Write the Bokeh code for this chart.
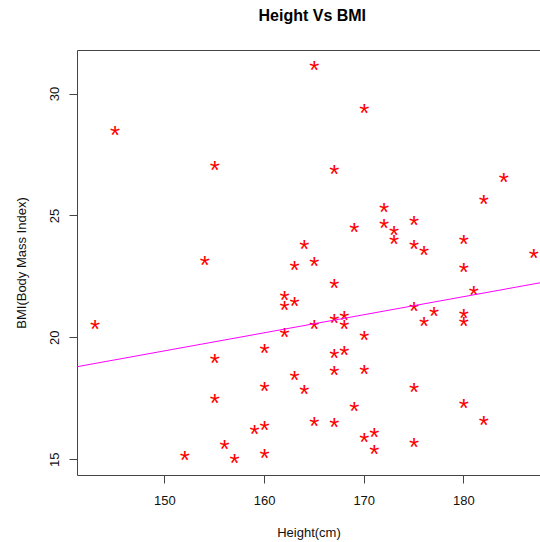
import numpy as np
from bokeh.plotting import figure
from bokeh.models import (FixedTicker, Range1d, ColumnDataSource, Slope, Title,
                          LinearAxis)
from bokeh.core.properties import value
from bokeh.embed import file_html
from bokeh.resources import INLINE

height_cm = [145, 155, 154, 163, 164, 165, 170, 167, 184, 182, 172, 172, 173, 173,
             175, 175, 176, 169, 180, 180, 187, 165, 143, 162, 162, 163, 162, 160,
             155, 163, 164, 160, 155, 159, 160, 156, 152, 157, 160, 167, 181, 175,
             177, 176, 180, 180, 165, 167, 168, 168, 170, 167, 168, 167, 170, 175,
             180, 169, 182, 165, 167, 170, 171, 171, 175]
bmi = [28.47, 27.01, 23.15, 22.94, 23.77, 31.14, 29.36, 26.85, 26.54, 25.62, 25.32,
       24.66, 24.36, 24.01, 24.78, 23.79, 23.53, 24.47, 24.01, 22.85, 23.40, 23.08,
       20.51, 21.69, 21.30, 21.44, 20.18, 19.52, 19.11, 18.42, 17.84, 17.95, 17.47,
       16.19, 16.37, 15.59, 15.14, 15.00, 15.20, 22.19, 21.92, 21.23, 21.03, 20.64,
       20.96, 20.64, 20.52, 20.75, 20.87, 20.52, 20.04, 19.32, 19.45, 18.60, 18.67,
       17.92, 17.26, 17.15, 16.55, 16.51, 16.47, 15.89, 16.06, 15.37, 15.65]
x_ticks = [150, 160, 170, 180]
y_ticks = [15, 20, 25, 30]
title_text = "Height Vs BMI"

# fitted line (abline of lm(BMI ~ Height))
fit_slope = 0.0741
fit_intercept = 8.354

# R-style axis extension (4%)
xpad = 0.04 * (max(height_cm) - min(height_cm))
ypad = 0.04 * (max(bmi) - min(bmi))
x_start = min(height_cm) - xpad
y_start, y_end = min(bmi) - ypad, max(bmi) + ypad
x_end = 187.68  # view is cropped at the right

src = ColumnDataSource(dict(h=height_cm, b=bmi, t=["*"] * len(bmi)))

p = figure(width=540, height=542, output_backend="svg", toolbar_location=None,
           title=None,
           x_range=Range1d(x_start, x_end), y_range=Range1d(y_start, y_end),
           min_border_left=77, min_border_right=0, min_border_top=50,
           min_border_bottom=67, background_fill_color="white",
           border_fill_color="white", outline_line_color=None)

p.grid.visible = False

for ax in (p.xaxis[0], p.yaxis[0]):
    ax.axis_line_color = "#444444"
    ax.major_tick_line_color = "#444444"
    ax.major_tick_out = 8
    ax.major_tick_in = 0
    ax.minor_tick_line_color = None
    ax.major_label_text_font = "Liberation Sans"
    ax.major_label_text_font_size = "13px"
    ax.major_label_text_color = "#111111"
    ax.axis_label_text_font = "Liberation Sans"
    ax.axis_label_text_font_size = "13px"
    ax.axis_label_text_font_style = "normal"
    ax.axis_label_text_color = "#111111"

p.xaxis.ticker = FixedTicker(ticks=x_ticks)
p.yaxis.ticker = FixedTicker(ticks=y_ticks)
p.xaxis.axis_label = "Height(cm)"
p.yaxis.axis_label = "BMI(Body Mass Index)"
p.xaxis.major_label_standoff = 12
p.xaxis.axis_label_standoff = 17
p.yaxis.major_label_standoff = 10
p.yaxis.axis_label_standoff = 19
p.yaxis.major_label_orientation = "vertical"

# top border of the box (an axis without ticks)
top_axis = LinearAxis(ticker=FixedTicker(ticks=[]), axis_line_color="#444444",
                      major_tick_out=0, major_tick_in=0, major_tick_line_color=None,
                      minor_tick_line_color=None, major_label_standoff=0)
p.add_layout(top_axis, "above")

# blank spacer between the box and the title
p.add_layout(Title(text=" ", standoff=5, text_font="Liberation Sans",
                   text_font_size="16px"), "above")

p.add_layout(Title(text=title_text, align="left", offset=181, standoff=5,
                   text_font="Liberation Sans", text_font_size="16px",
                   text_font_style="bold", text_color="black"), "above")

p.add_layout(Slope(gradient=fit_slope, y_intercept=fit_intercept,
                   line_color="magenta", line_width=1))

p.text(x="h", y="b", text="t", source=src, text_font=value("Liberation Sans"),
       text_font_size=value("26px"), text_color="red", text_align="center",
       text_baseline="alphabetic", y_offset=3.5)

open("out.html", "w").write(file_html(p, INLINE))
